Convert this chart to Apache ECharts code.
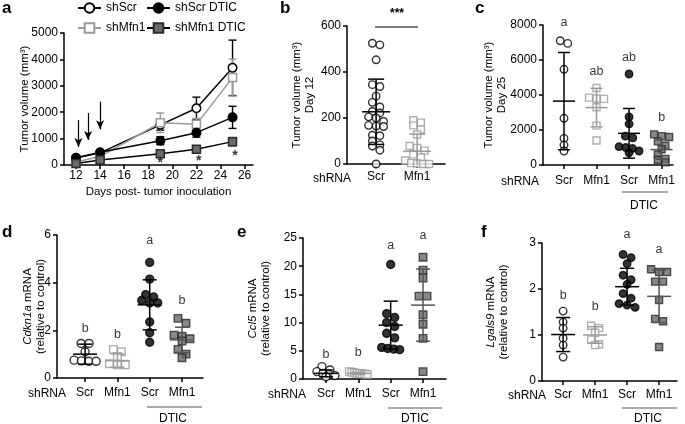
<!DOCTYPE html>
<html><head><meta charset="utf-8">
<script src="https://cdn.jsdelivr.net/npm/echarts@6/dist/echarts.min.js"></script>
<style>html,body{margin:0;padding:0;background:#fff}#c{width:685px;height:424px}</style>
</head><body><div id="c"></div>
<script>
const FONT = '"Liberation Sans", Arial, Helvetica, sans-serif';

// ---------- Panel a : growth curves ----------
const daysA = [12, 14, 19, 22, 25];
const xTicksA = [12, 14, 16, 18, 20, 22, 24, 26];
const namesA = ['shScr', 'shMfn1', 'shScr DTIC', 'shMfn1 DTIC'];
const aScr = [260, 460, 1520, 2150, 3680];
const aScrSD = [40, 60, 200, 420, 1050];
const aMfn1 = [115, 320, 1600, 1540, 3310];
const aMfn1SD = [40, 60, 370, 220, 700];
const aScrDT = [275, 480, 920, 1225, 1805];
const aScrDTSD = [40, 50, 150, 170, 420];
const aMfn1DT = [60, 190, 425, 595, 885];
const aMfn1DTSD = [30, 40, 100, 100, 160];
const arrowsA = [[12.2, 1700, 680], [13.0, 1970, 950], [14.0, 2400, 1350]]; // day, top, tip
const starsA = [[19, 75], [22.2, 140], [25.2, 330]];

// ---------- Scatter panels ----------
const groupLabels = ['Scr', 'Mfn1', 'Scr', 'Mfn1'];

// b : day 12
const bScr = [525, 518, 453, 345, 337, 295, 268, 248, 228, 222, 205, 200, 185, 168, 165, 163, 125, 123, 100, 83, 78, 60, 0];
const bMfn1 = [190, 180, 168, 150, 128, 78, 70, 58, 42, 28, 15, 4, 2, 0, 0];
const bMean = [227, 55];
const bSD = [142, 75];

// c : day 25
const cScr = [7100, 6950, 5470, 2670, 1520, 1140, 800];
const cMfn1 = [4400, 3850, 3800, 3780, 3300, 2250, 1400];
const cScrDT = [5200, 2750, 2350, 1650, 1550, 1050, 1000, 950, 800, 700];
const cMfn1DT = [1750, 1650, 1600, 1350, 1100, 900, 600, 350, 300, 150];
const cMean = [3650, 3280, 1810, 880];
const cSD = [2780, 1100, 1420, 550];
const cLetters = ['a', 'ab', 'ab', 'b'];
const cLetterY = [8114, 5314, 6114, 2686];

// d : Cdkn1a
const dScr = [1.45, 1.45, 1.1, 0.75, 0.72, 0.7, 0.7];
const dMfn1 = [1.2, 1.1, 0.9, 0.6, 0.55, 0.55];
const dScrDT = [4.85, 4.15, 3.5, 3.4, 3.25, 3.15, 3.15, 2.35, 1.9, 1.5];
const dMfn1DT = [2.5, 2.3, 1.8, 1.75, 1.65, 1.55, 1.2, 1.0, 0.85];
const dMean = [1.0, 0.73, 3.07, 1.6];
const dSD = [0.42, 0.28, 1.05, 0.53];
const dLetters = ['b', 'b', 'a', 'b'];
const dLetterY = [2.09, 1.84, 5.75, 3.24];

// e : Ccl5
const eScr = [2.2, 1.6, 1.3, 1.0, 0.8, 0.6, 0.4];
const eMfn1 = [1.3, 1.2, 1.1, 1.0, 1.0, 0.9, 0.9, 0.8];
const eScrDT = [20.3, 11.6, 10.9, 10.0, 9.3, 8.1, 7.3, 5.6, 5.4, 5.3, 5.2];
const eMfn1DT = [21.6, 19.3, 17.9, 14.7, 14.7, 11.4, 9.7, 7.2, 1.3];
const eMean = [1.0, 1.0, 9.55, 13.1];
const eSD = [0.6, 0.2, 4.25, 6.4];
const eLetters = ['b', 'b', 'a', 'a'];
const eLetterY = [4.4, 4.7, 23.6, 25.4];

// f : Lgals9
const fScr = [1.52, 1.28, 1.15, 0.93, 0.78, 0.52];
const fMfn1 = [1.2, 1.15, 1.05, 0.9, 0.8, 0.78];
const fScrDT = [2.75, 2.68, 2.55, 2.3, 2.2, 2.1, 1.9, 1.8, 1.68, 1.65, 1.6];
const fMfn1DT = [2.43, 2.37, 2.37, 2.16, 2.16, 1.76, 1.35, 1.3, 0.74];
const fMean = [1.01, 1.0, 2.05, 1.84];
const fSD = [0.37, 0.18, 0.4, 0.57];
const fLetters = ['b', 'b', 'a', 'a'];
const fLetterY = [1.86, 1.62, 3.18, 2.86];

// ---------- styles ----------
const GREY = '#9a9a9a';
const styleDefs = [
  { symbol: 'circle', fill: '#ffffff', stroke: '#000000', err: '#000000' },
  { symbol: 'rect', fill: '#ffffff', stroke: GREY, err: GREY },
  { symbol: 'circle', fill: '#000000', stroke: '#000000', err: '#000000' },
  { symbol: 'rect', fill: '#6a6a6a', stroke: '#2a2a2a', err: '#555555' }
];
const lineColorsA = ['#000000', GREY, '#000000', '#000000'];

const grids = [], xAxes = [], yAxes = [], series = [];
const axisLineStyle = { color: '#000', width: 1.5 };
const labelBase = { fontFamily: FONT, fontSize: 12, color: '#000' };

function yAxisCfg(gi, min, max, interval, name, nameGap) {
  return {
    gridIndex: gi, type: 'value', min, max, interval,
    axisLine: { show: true, onZero: false, lineStyle: axisLineStyle },
    axisTick: { show: true, length: 4, lineStyle: axisLineStyle },
    axisLabel: Object.assign({ margin: 6, formatter: v => String(v) }, labelBase),
    splitLine: { show: false },
    name, nameLocation: 'middle', nameGap, nameMoveOverlap: false,
    nameTextStyle: { fontFamily: FONT, fontSize: 11.5, color: '#000', lineHeight: 13,
      rich: { i: { fontFamily: FONT, fontSize: 11.5, fontStyle: 'italic', color: '#000', lineHeight: 13 } } }
  };
}

// ----- panel a -----
(function () {
  const gi = grids.length;
  grids.push({ left: 64, top: 33, width: 189, height: 132, containLabel: false, outerBoundsMode: 'none' });
  xAxes.push({
    gridIndex: gi, type: 'value', min: 11, max: 26.7,
    axisLine: { show: true, onZero: false, lineStyle: axisLineStyle },
    axisTick: { show: true, length: 4, customValues: xTicksA, lineStyle: axisLineStyle },
    axisLabel: Object.assign({ margin: 5, customValues: xTicksA }, labelBase),
    splitLine: { show: false },
    name: 'Days post- tumor inoculation', nameLocation: 'middle', nameGap: 21, nameMoveOverlap: false,
    nameTextStyle: { fontFamily: FONT, fontSize: 11.5, color: '#000' }
  });
  yAxes.push(yAxisCfg(gi, 0, 5000, 1000, 'Tumor volume (mm³)', 33));
  const vals = [aScr, aMfn1, aScrDT, aMfn1DT];
  const sds = [aScrSD, aMfn1SD, aScrDTSD, aMfn1DTSD];
  vals.forEach((v, k) => {
    const st = styleDefs[k];
    series.push({
      name: namesA[k], type: 'line', xAxisIndex: gi, yAxisIndex: gi,
      data: daysA.map((d, i) => [d, v[i]]),
      symbol: st.symbol, symbolSize: k % 2 ? 8 : 8.5, showAllSymbol: true,
      lineStyle: { color: lineColorsA[k], width: 1.5 },
      itemStyle: { color: st.fill, borderColor: st.stroke, borderWidth: 1.5 },
      z: 3, silent: true, animation: false,
      markLine: k === 0 ? {
        silent: true, animation: false, symbol: ['none', 'arrow'], symbolSize: [6, 9],
        label: { show: false },
        lineStyle: { color: '#000', width: 1.2, type: 'solid' },
        itemStyle: { color: '#000' },
        data: arrowsA.map(a => [{ coord: [a[0], a[1]] }, { coord: [a[0], a[2]] }])
      } : undefined
    });
    series.push({
      type: 'custom', xAxisIndex: gi, yAxisIndex: gi, silent: true, z: 2, animation: false,
      data: daysA.map((d, i) => [d, v[i], sds[k][i]]),
      renderItem: (params, api) => {
        const x = api.value(0), m = api.value(1), s = api.value(2);
        const t = api.coord([x, m + s]), b = api.coord([x, Math.max(m - s, 0)]);
        const style = { stroke: st.err, lineWidth: 1.4 };
        return { type: 'group', children: [
          { type: 'line', shape: { x1: t[0], y1: t[1], x2: b[0], y2: b[1] }, style },
          { type: 'line', shape: { x1: t[0] - 4, y1: t[1], x2: t[0] + 4, y2: t[1] }, style },
          { type: 'line', shape: { x1: b[0] - 4, y1: b[1], x2: b[0] + 4, y2: b[1] }, style }
        ] };
      }
    });
  });
  series.push({
    type: 'scatter', xAxisIndex: gi, yAxisIndex: gi, silent: true, clip: false, z: 5,
    symbolSize: 1, itemStyle: { color: 'rgba(0,0,0,0)' }, data: starsA,
    label: { show: true, position: 'inside', formatter: '*', fontFamily: FONT, fontSize: 14, fontWeight: 'bold', color: '#000' }
  });
})();

// ----- beeswarm (row binning, compressed rows) -----
function swarm(vals, center, pxY, pxX, dist, rowH, maxSpan) {
  const pts = vals.map(v => ({ v }));
  const order = pts.slice().sort((a, b) => b.v - a.v);
  const rows = [];
  order.forEach(p => {
    const r = rows[rows.length - 1];
    if (r && (r[0].v - p.v) * pxY <= rowH) r.push(p); else rows.push([p]);
  });
  rows.forEach(r => {
    const d = r.length > 1 ? Math.min(dist, maxSpan / (r.length - 1)) : 0;
    r.forEach((p, j) => { p.off = (j - (r.length - 1) / 2) * d; });
  });
  return pts.map(p => [center + p.off / pxX, p.v]);
}

function scatterPanel(p) {
  const gi = grids.length;
  grids.push(Object.assign({ containLabel: false, outerBoundsMode: 'none' }, p.grid));
  const ticks = p.groups.map((_, i) => i + 1);
  xAxes.push({
    gridIndex: gi, type: 'value', min: p.x[0], max: p.x[1],
    axisLine: { show: true, onZero: false, lineStyle: axisLineStyle },
    axisTick: { show: true, length: 4, customValues: ticks, lineStyle: axisLineStyle },
    axisLabel: Object.assign({ margin: p.labelMargin, customValues: ticks,
      formatter: v => groupLabels[Math.round(v) - 1] }, labelBase),
    splitLine: { show: false }
  });
  yAxes.push(yAxisCfg(gi, p.y[0], p.y[1], p.y[2], p.name, p.nameGap));
  const pxY = p.grid.height / (p.y[1] - p.y[0]);
  const pxX = p.grid.width / (p.x[1] - p.x[0]);
  p.groups.forEach((vals, i) => {
    const st = styleDefs[i];
    series.push({
      type: 'scatter', xAxisIndex: gi, yAxisIndex: gi, silent: true, clip: false, z: 3, animation: false,
      data: swarm(vals, i + 1, pxY, pxX, p.dist, p.rowH, p.maxSpan),
      symbol: st.symbol, symbolSize: st.symbol === 'rect' ? p.size - 0.5 : p.size,
      itemStyle: { color: st.fill, borderColor: st.stroke, borderWidth: 1.4 }
    });
  });
  series.push({
    type: 'custom', xAxisIndex: gi, yAxisIndex: gi, silent: true, z: 4, animation: false,
    data: p.mean.map((m, i) => [i + 1, m, p.sd[i]]),
    renderItem: (params, api) => {
      const c = styleDefs[params.dataIndex].err;
      const x = api.value(0), m = api.value(1), s = api.value(2);
      const pm = api.coord([x, m]);
      const t = api.coord([x, m + s]);
      const b = api.coord([x, Math.max(m - s, p.y[0])]);
      const style = { stroke: c, lineWidth: 1.5 };
      const ch = [
        { type: 'line', shape: { x1: pm[0] - p.hwM, y1: pm[1], x2: pm[0] + p.hwM, y2: pm[1] }, style },
        { type: 'line', shape: { x1: pm[0], y1: t[1], x2: pm[0], y2: b[1] }, style },
        { type: 'line', shape: { x1: pm[0] - p.hwC, y1: t[1], x2: pm[0] + p.hwC, y2: t[1] }, style }
      ];
      if (m - s > p.y[0]) ch.push({ type: 'line', shape: { x1: pm[0] - p.hwC, y1: b[1], x2: pm[0] + p.hwC, y2: b[1] }, style });
      return { type: 'group', children: ch };
    }
  });
  if (p.letters) {
    series.push({
      type: 'scatter', xAxisIndex: gi, yAxisIndex: gi, silent: true, clip: false, z: 5, animation: false,
      symbolSize: 1, itemStyle: { color: 'rgba(0,0,0,0)' },
      data: p.letters.map((l, i) => ({ name: l, value: [i + 1, p.letterY[i]] })),
      label: { show: true, position: 'inside', formatter: '{b}', fontFamily: FONT, fontSize: 12.5, color: '#000' }
    });
  }
}

scatterPanel({ grid: { left: 347, top: 26, width: 98, height: 138 }, x: [0.29, 2.68], y: [0, 600, 200],
  groups: [bScr, bMfn1], mean: bMean, sd: bSD, name: 'Tumor volume (mm³)\nDay 12', nameGap: 31,
  labelMargin: 7, size: 7.5, dist: 7.5, rowH: 5, maxSpan: 24, hwM: 14, hwC: 8 });
scatterPanel({ grid: { left: 543, top: 25, width: 130, height: 140 }, x: [0.355, 4.35], y: [0, 8000, 2000],
  groups: [cScr, cMfn1, cScrDT, cMfn1DT], mean: cMean, sd: cSD, letters: cLetters, letterY: cLetterY,
  name: 'Tumor volume (mm³)\nDay 25', nameGap: 35, labelMargin: 10, size: 7.5, dist: 7.5, rowH: 5, maxSpan: 20, hwM: 11, hwC: 6 });
scatterPanel({ grid: { left: 57, top: 235, width: 146, height: 143 }, x: [0.13, 4.65], y: [0, 6, 2],
  groups: [dScr, dMfn1, dScrDT, dMfn1DT], mean: dMean, sd: dSD, letters: dLetters, letterY: dLetterY,
  name: '{i|Cdkn1a} mRNA\n(relative to control)', nameGap: 10, labelMargin: 9, size: 8, dist: 8, rowH: 5, maxSpan: 22, hwM: 12, hwC: 7 });
scatterPanel({ grid: { left: 303, top: 238, width: 143, height: 141 }, x: [0.29, 4.71], y: [0, 25, 5],
  groups: [eScr, eMfn1, eScrDT, eMfn1DT], mean: eMean, sd: eSD, letters: eLetters, letterY: eLetterY,
  name: '{i|Ccl5} mRNA\n(relative to control)', nameGap: 31, labelMargin: 9, size: 8, dist: 8, rowH: 5, maxSpan: 18, hwM: 12, hwC: 7 });
scatterPanel({ grid: { left: 542, top: 243, width: 135, height: 138 }, x: [0.34, 4.56], y: [0, 3, 1],
  groups: [fScr, fMfn1, fScrDT, fMfn1DT], mean: fMean, sd: fSD, letters: fLetters, letterY: fLetterY,
  name: '{i|Lgals9} mRNA\n(relative to control)', nameGap: 32, labelMargin: 8, size: 7.5, dist: 8, rowH: 5, maxSpan: 20, hwM: 12, hwC: 7 });

// ---------- annotations ----------
function txt(text, x, y, opt) {
  return { type: 'text', silent: true, style: Object.assign({ text, x, y, fill: '#000',
    font: '12px ' + FONT, textAlign: 'center', textVerticalAlign: 'middle' }, opt || {}) };
}
function hline(x1, x2, y, color) {
  return { type: 'line', silent: true, shape: { x1, y1: y, x2, y2: y }, style: { stroke: color || '#555', lineWidth: 1.2 } };
}
const panelFont = 'bold 17px ' + FONT;
const graphics = [
  txt('a', 2, 0, { font: panelFont, textAlign: 'left', textVerticalAlign: 'top' }),
  txt('b', 280, 0, { font: panelFont, textAlign: 'left', textVerticalAlign: 'top' }),
  txt('c', 475, 0, { font: panelFont, textAlign: 'left', textVerticalAlign: 'top' }),
  txt('d', 2, 224, { font: panelFont, textAlign: 'left', textVerticalAlign: 'top' }),
  txt('e', 237, 224, { font: panelFont, textAlign: 'left', textVerticalAlign: 'top' }),
  txt('f', 481, 224, { font: panelFont, textAlign: 'left', textVerticalAlign: 'top' }),
  txt('shRNA', 332, 179), txt('shRNA', 520, 182), txt('shRNA', 47, 394), txt('shRNA', 287, 395), txt('shRNA', 527, 396),
  hline(622, 668, 192), txt('DTIC', 644, 206),
  hline(147, 202, 407), txt('DTIC', 173, 419),
  hline(388, 442, 408), txt('DTIC', 415, 419),
  hline(622, 677, 408), txt('DTIC', 648, 419),
  txt('***', 397, 8, { font: 'bold 12px ' + FONT, textVerticalAlign: 'top' }),
  hline(375, 418, 27, '#000')
];

const chart = echarts.init(document.getElementById('c'), null, { renderer: 'canvas' });
const legendBase = { orient: 'vertical', top: 2, itemGap: 8, itemWidth: 23, itemHeight: 12, padding: 0,
  selectedMode: false, textStyle: { fontFamily: FONT, fontSize: 12, color: '#000' } };
chart.setOption({
  animation: false,
  backgroundColor: '#fff',
  textStyle: { fontFamily: FONT },
  legend: [
    Object.assign({ left: 77, data: ['shScr', 'shMfn1'] }, legendBase),
    Object.assign({ left: 146, data: ['shScr DTIC', 'shMfn1 DTIC'] }, legendBase)
  ],
  grid: grids, xAxis: xAxes, yAxis: yAxes, series, graphic: graphics
});
</script></body></html>
